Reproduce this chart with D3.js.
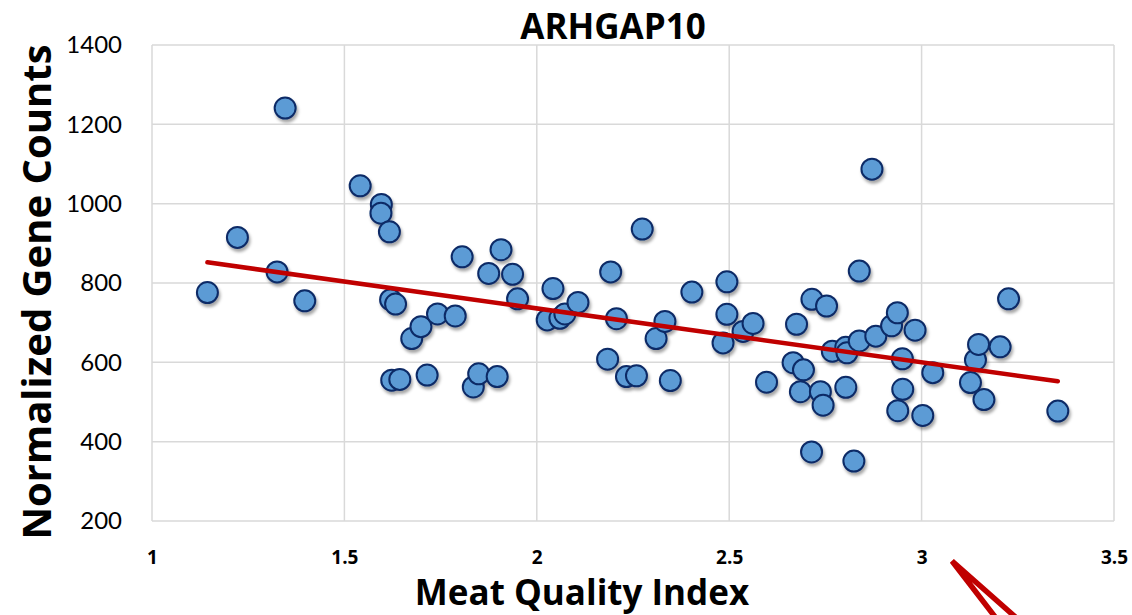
<!DOCTYPE html>
<html>
<head>
<meta charset="utf-8">
<script src="https://cdn.jsdelivr.net/npm/d3@7"></script>
<style>
  html, body { margin: 0; padding: 0; background: #fff; }
  svg { display: block; font-family: "Open Sans", Lato, sans-serif; }
</style>
</head>
<body>
<svg id="chart" width="1132" height="615"></svg>
<script>
// Meat quality index per sample
const meatQuality = [
  1.144, 1.222, 1.325, 1.346, 1.397, 1.541, 1.596, 1.595, 1.617, 1.620,
  1.633, 1.623, 1.644, 1.675, 1.699, 1.715, 1.742, 1.788, 1.806, 1.835,
  1.849, 1.875, 1.897, 1.907, 1.937, 1.950, 2.027, 2.042, 2.060, 2.073,
  2.107, 2.184, 2.192, 2.207, 2.233, 2.259, 2.274, 2.310, 2.333, 2.347,
  2.403, 2.484, 2.494, 2.494, 2.536, 2.562, 2.597, 2.675, 2.666, 2.693,
  2.685, 2.715, 2.753, 2.714, 2.737, 2.744, 2.768, 2.803, 2.806, 2.803,
  2.824, 2.838, 2.838, 2.871, 2.881, 2.922, 2.937, 2.950, 2.951, 2.938,
  2.983, 3.003, 3.029, 3.127, 3.140, 3.148, 3.162, 3.204, 3.226, 3.354
];

// ARHGAP10 normalized gene counts, same order as meatQuality
const geneCounts = [
  776, 915, 828, 1241, 755, 1045, 998, 976, 929, 758,
  747, 555, 557, 660, 690, 568, 722, 717, 866, 538,
  571, 824, 564, 884, 822, 760, 707, 786, 711, 722,
  751, 608, 828, 710, 564, 566, 936, 660, 703, 554,
  777, 649, 803, 721, 678, 698, 550, 696, 599, 581,
  526, 759, 742, 374, 526, 492, 628, 638, 624, 537,
  351, 830, 654, 1087, 666, 692, 725, 609, 532, 478,
  681, 466, 574, 549, 606, 645, 506, 639, 760, 477
];

const xTicks = [1, 1.5, 2, 2.5, 3, 3.5];
const yTicks = [200, 400, 600, 800, 1000, 1200, 1400];

const titleText = "ARHGAP10";
const xTitle = "Meat Quality Index";
const yTitle = "Normalized Gene Counts";

const svg = d3.select("#chart");
const margin = { left: 152, top: 45, right: 18, bottom: 94 };
const W = 1132, H = 615;
const iw = W - margin.left - margin.right;
const ih = H - margin.top - margin.bottom;

const x = d3.scaleLinear().domain([1, 3.5]).range([0, iw]);
const y = d3.scaleLinear().domain([200, 1400]).range([ih, 0]);

// soft drop shadow under the markers
const defs = svg.append("defs");
const sh = defs.append("filter").attr("id", "shadow")
  .attr("x", "-50%").attr("y", "-50%").attr("width", "200%").attr("height", "200%");
sh.append("feDropShadow").attr("dx", 1.5).attr("dy", 3).attr("stdDeviation", 1.8)
  .attr("flood-color", "#000").attr("flood-opacity", 0.35);

const g = svg.append("g").attr("transform", `translate(${margin.left},${margin.top})`);

// gridlines (including the frame)
g.append("g").selectAll("line").data(yTicks).join("line")
  .attr("x1", 0).attr("x2", iw)
  .attr("y1", d => y(d)).attr("y2", d => y(d))
  .attr("stroke", "#d9d9d9").attr("stroke-width", 1.5);
g.append("g").selectAll("line").data(xTicks).join("line")
  .attr("y1", 0).attr("y2", ih)
  .attr("x1", d => x(d)).attr("x2", d => x(d))
  .attr("stroke", "#d9d9d9").attr("stroke-width", 1.5);

// y axis tick labels
const yAxis = d3.axisLeft(y).tickValues(yTicks).tickSize(0).tickPadding(30).tickFormat(d3.format("d"));
g.append("g").call(yAxis)
  .call(s => s.select(".domain").remove())
  .selectAll("text")
  .attr("font-size", 24).attr("fill", "#000")
  .attr("font-family", "Lato, sans-serif");

// x axis tick labels
const xAxis = d3.axisBottom(x).tickValues(xTicks).tickSize(0).tickPadding(30).tickFormat(d3.format("~g"));
g.append("g").attr("transform", `translate(0,${ih})`).call(xAxis)
  .call(s => s.select(".domain").remove())
  .selectAll("text")
  .attr("font-size", 19).attr("font-weight", "bold").attr("fill", "#000")
  .attr("font-family", "'Open Sans', sans-serif");

// data points
const pts = meatQuality.map((v, i) => ({ mq: v, count: geneCounts[i] }));
g.append("g").attr("filter", "url(#shadow)")
  .selectAll("circle").data(pts).join("circle")
  .attr("cx", d => x(d.mq)).attr("cy", d => y(d.count))
  .attr("r", 10.5)
  .attr("fill", "#5b9bd5").attr("stroke", "#0b2a66").attr("stroke-width", 2);

// least-squares trend line over the data range
const mx = d3.mean(pts, d => d.mq), my = d3.mean(pts, d => d.count);
const sxy = d3.sum(pts, d => (d.mq - mx) * (d.count - my));
const sxx = d3.sum(pts, d => (d.mq - mx) ** 2);
const slope = sxy / sxx, intercept = my - slope * mx;
const xr = d3.extent(pts, d => d.mq);
g.append("line")
  .attr("x1", x(xr[0])).attr("y1", y(intercept + slope * xr[0]))
  .attr("x2", x(xr[1])).attr("y2", y(intercept + slope * xr[1]))
  .attr("stroke", "#c00000").attr("stroke-width", 4.5).attr("stroke-linecap", "round");

// titles
svg.append("text").attr("x", 613).attr("y", 39).attr("text-anchor", "middle")
  .attr("font-size", 35).attr("font-weight", "bold").attr("fill", "#000").text(titleText);
svg.append("text").attr("x", 582).attr("y", 605).attr("text-anchor", "middle")
  .attr("font-size", 35).attr("font-weight", "bold").attr("fill", "#000").text(xTitle);
svg.append("text").attr("transform", "translate(51,292) rotate(-90)").attr("text-anchor", "middle")
  .attr("font-size", 40).attr("font-weight", "bold").attr("fill", "#000").text(yTitle);

// red pointer arrow entering from the bottom edge
svg.append("path")
  .attr("d", "M999,622 L952,561 L1021,622")
  .attr("fill", "none").attr("stroke", "#c00000").attr("stroke-width", 5.5)
  .attr("stroke-linejoin", "miter");
</script>
</body>
</html>
